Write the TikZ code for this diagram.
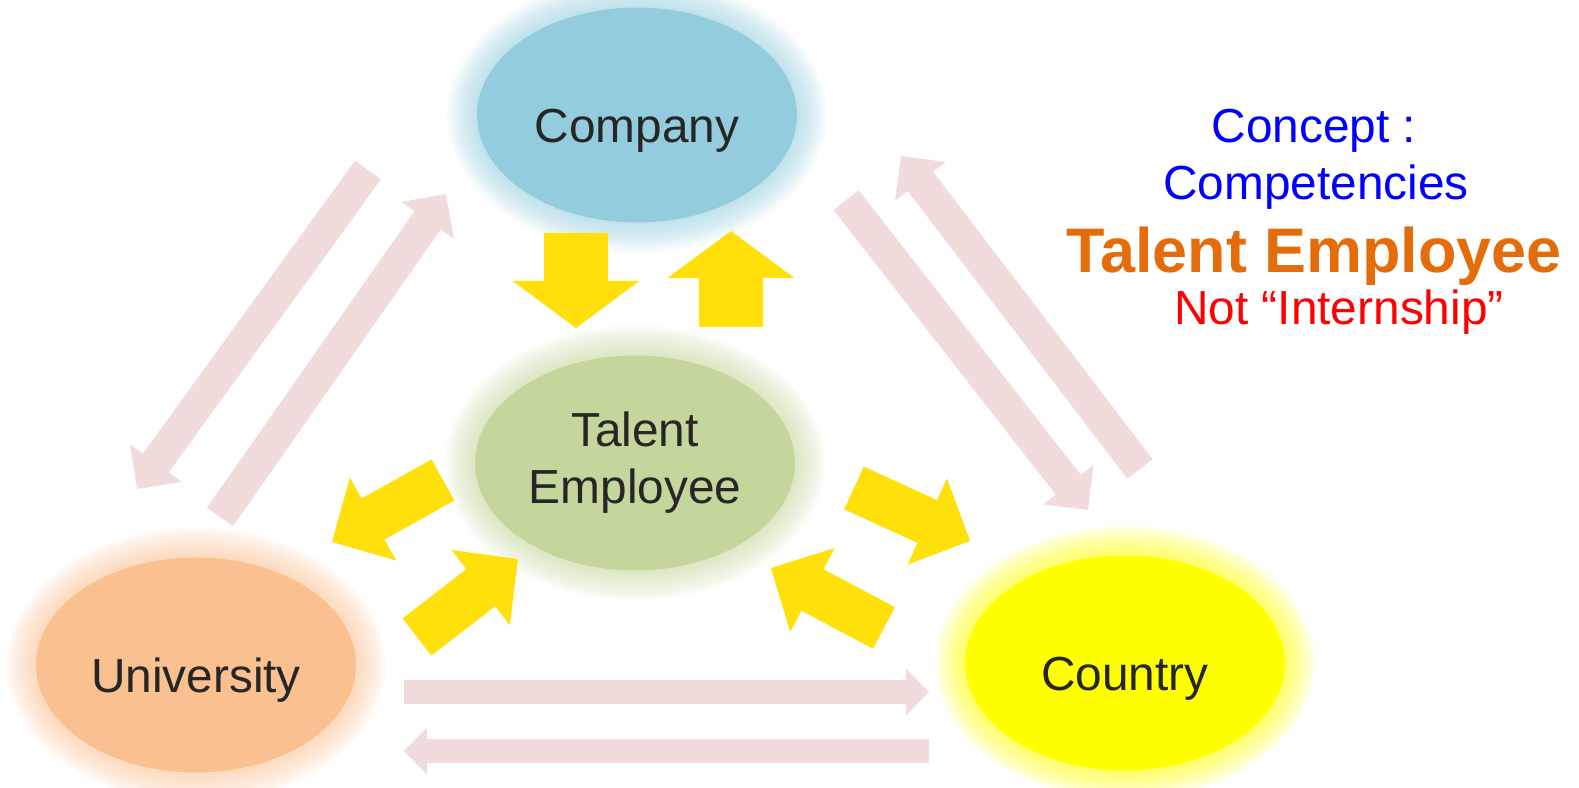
\documentclass[tikz,border=0pt]{standalone}
\usepackage{fontspec}
\setmainfont{Liberation Sans}
\usepackage{tikz}
\usetikzlibrary{shapes.geometric, calc, backgrounds}

\definecolor{compblue}{RGB}{147,205,221}
\definecolor{talgreen}{RGB}{195,214,155}
\definecolor{uniorange}{RGB}{250,192,144}
\definecolor{cntyellow}{RGB}{255,255,0}
\definecolor{linkpink}{RGB}{242,220,219}
\definecolor{flowyellow}{RGB}{255,224,10}
\definecolor{labelgray}{RGB}{38,38,38}
\definecolor{noteorange}{RGB}{228,108,10}

% block arrow: style, tail, tip, half shaft, half head, head length
\newcommand{\blockarrow}[6]{%
  \coordinate (neck) at ($(#3)!#6!(#2)$);
  \fill[#1] ($(#2)!#4!90:(#3)$) -- ($(neck)!#4!-90:(#2)$)
    -- ($(neck)!#5!-90:(#2)$) -- (#3) -- ($(neck)!#5!90:(#2)$)
    -- ($(neck)!#4!90:(#2)$) -- ($(#2)!#4!-90:(#3)$) -- cycle;
}

\begin{document}
\begin{tikzpicture}[
            x = 0.1mm, % one unit per pixel
            y = -0.1mm, % y runs downwards
            font = \fontsize{13.6}{16.2}\selectfont
        ]

        \tikzstyle{party}=[
            ellipse,
            inner sep = 0pt,
            minimum width = 32mm,
            minimum height = 21.5mm,
            text = labelgray
        ]
        \tikzstyle{oneline}=[text height = 5.6mm, text depth = 0mm] % label sits a bit low
        \tikzstyle{link}=[fill = linkpink]
        \tikzstyle{flow}=[fill = flowyellow]

        \useasboundingbox (0,0) rectangle (1579,788);

        \node[party, fill = talgreen, align = center] (talent) at (635,463) {Talent\\Employee};
        \node[party, oneline, fill = compblue] (company) at (637,115) {Company};
        \node[party, oneline, fill = uniorange] (university) at (196,665) {University};
        \node[party, oneline, fill = cntyellow] (country) at (1125,663) {Country};

        % soft glow round every party
        \begin{pgfonlayer}{background}
            \foreach \n/\c in {company/compblue, talent/talgreen, university/uniorange, country/cntyellow}
                \foreach \g in {1,...,10}
                    \fill[\c, opacity = 0.08] (\n.center) ellipse [x radius = 16mm+0.3mm*\g, y radius = 10.75mm+0.3mm*\g];
        \end{pgfonlayer}

        % links between the outer parties
        \coordinate (c2u a) at (368,170);  \coordinate (c2u b) at (137,489);
        \coordinate (u2c a) at (220,517);  \coordinate (u2c b) at (446,194);
        \coordinate (c2k a) at (846,200);  \coordinate (c2k b) at (1088,510);
        \coordinate (k2c a) at (1140,469); \coordinate (k2c b) at (901,156);
        \coordinate (u2k a) at (404,692);  \coordinate (u2k b) at (929,692);
        \coordinate (k2u a) at (929,751);  \coordinate (k2u b) at (404,751);

        \blockarrow{link}{c2u a}{c2u b}{1.6mm}{3.2mm}{3.2mm}
        \blockarrow{link}{u2c a}{u2c b}{1.6mm}{3.2mm}{3.2mm}
        \blockarrow{link}{c2k a}{c2k b}{1.6mm}{3.2mm}{3.2mm}
        \blockarrow{link}{k2c a}{k2c b}{1.6mm}{3.2mm}{3.2mm}
        \blockarrow{link}{u2k a}{u2k b}{1.2mm}{2.35mm}{2.3mm}
        \blockarrow{link}{k2u a}{k2u b}{1.2mm}{2.35mm}{2.3mm}

        % flows to and from the talent employee
        \coordinate (c2t a) at (576,233);  \coordinate (c2t b) at (576,328);
        \coordinate (t2c a) at (731,327);  \coordinate (t2c b) at (731,231);
        \coordinate (t2u a) at (443,480);  \coordinate (t2u b) at (332,542);
        \coordinate (u2t a) at (417,637);  \coordinate (u2t b) at (518,559);
        \coordinate (t2k a) at (854,488);  \coordinate (t2k b) at (970,541);
        \coordinate (k2t a) at (884,628);  \coordinate (k2t b) at (771,568);

        \blockarrow{flow}{c2t a}{c2t b}{3.2mm}{6.35mm}{4.7mm}
        \blockarrow{flow}{t2c a}{t2c b}{3.2mm}{6.35mm}{4.7mm}
        \blockarrow{flow}{t2u a}{t2u b}{2.35mm}{4.75mm}{4.7mm}
        \blockarrow{flow}{u2t a}{u2t b}{2.35mm}{4.75mm}{4.7mm}
        \blockarrow{flow}{t2k a}{t2k b}{2.35mm}{4.75mm}{4.7mm}
        \blockarrow{flow}{k2t a}{k2t b}{2.35mm}{4.75mm}{4.7mm}

        % concept note
        \node[anchor = base, text = blue] (concept) at (1314,143) {Concept :};
        \node[anchor = base, text = blue] (competencies) at (1316,200) {Competencies};
        \node[anchor = base, text = noteorange, font = \fontsize{17.9}{20}\selectfont\bfseries] (talent note) at (1314,273) {Talent Employee};
        \node[anchor = base, text = red] (not intern) at (1339,325) {Not “Internship”};

\end{tikzpicture}
\end{document}
